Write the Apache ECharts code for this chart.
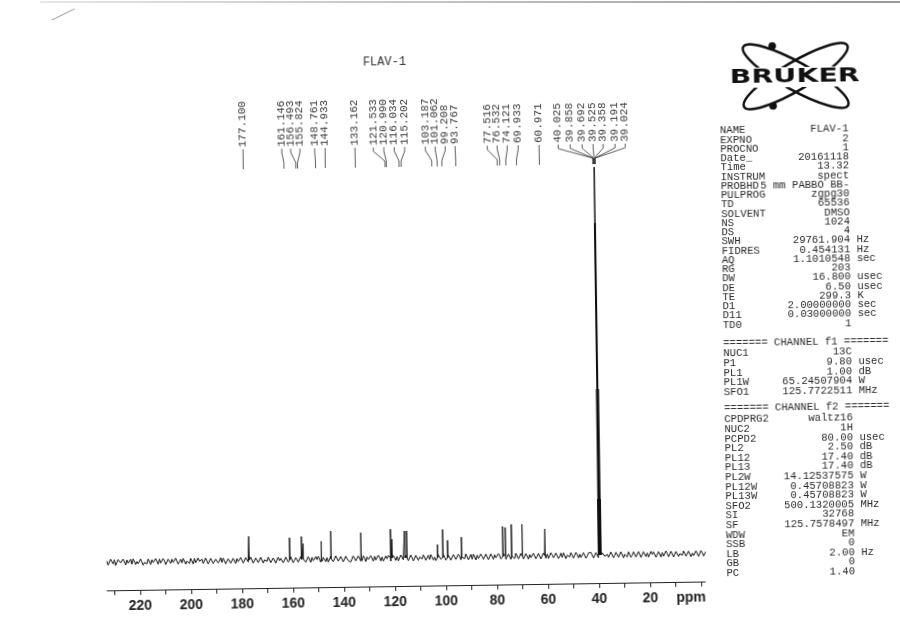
<!DOCTYPE html>
<html>
<head>
<meta charset="utf-8">
<script src="https://cdn.jsdelivr.net/npm/echarts@6/dist/echarts.min.js"></script>
<style>
  html, body { margin: 0; padding: 0; background: #fff; }
  #main { width: 900px; height: 635px; transform: rotate(-0.85deg); transform-origin: 400px 370px; }
  #edge { position: absolute; left: 40px; top: 1px; width: 860px; height: 2px; z-index: 5;
          background: linear-gradient(to right, #e6e6e6, #999); }
</style>
</head>
<body>
<div id="main"></div>
<div id="edge"></div>
<script>
// picked peaks (ppm), their heights and where the printed label sits (ppm)
const peakPpm = [177.100, 161.146, 156.493, 155.824, 148.761, 144.933, 133.162,
  121.533, 120.990, 116.034, 115.202, 103.187, 101.062, 99.208, 93.767,
  77.516, 76.532, 74.121, 69.933, 60.971,
  40.025, 39.858, 39.692, 39.525, 39.358, 39.191, 39.024];
const peakHeight = [24, 22, 23, 16, 18, 28, 26,
  29, 19, 27, 27, 13, 28, 17, 20,
  30, 29, 32, 32, 27,
  56, 166, 332, 388, 332, 166, 56];
const labelPos = [177.1, 161.9, 158.4, 154.8, 149.0, 144.9, 133.2,
  126.0, 121.9, 117.8, 113.7, 105.6, 101.7, 97.8, 93.9,
  81.3, 77.4, 73.5, 69.2, 61.0,
  53.5, 48.8, 44.1, 39.8, 35.9, 31.2, 27.2];

// baseline noise, read along the trace from 232.9 ppm down to -1.6 ppm
// (noiseB sits half a step after each noiseA sample)
const noiseStart = 232.9, noiseEnd = -1.6;
const noiseA = [
  1.2,-1.8,0.6,2.4,-1.4,0.9,-2.6,0.2,2.1,-0.8,
  -2.2,1.6,0.4,-1.3,2.7,-0.6,-2.1,1.1,1.9,-1.7,
  0.3,2.5,-2.3,0.8,-1.1,0.5,2.2,-2.8,1.4,-0.4,
  -1.6,2.0,0.1,-2.4,1.2,2.6,-0.9,-0.3,1.7,-2.0,
  1.9,-1.2,0.7,-2.5,1.3,-0.1,-1.7,2.3,-0.6,1.0,
  -2.7,0.4,1.8,-1.0,2.2,-1.9,0.6,-0.2,2.4,-1.5,
  0.9,-2.2,1.5,0.2,-1.4,2.0,-2.6,1.1,0.0,-0.9,
  2.1,-1.6,0.8,-2.0,1.6,-0.5,2.5,-1.8,0.3,1.2,
  -2.3,0.7,1.9,-1.2,-0.4,2.2,-2.1,0.9,1.4,-1.6,
  0.5,-2.4,2.0,-0.7,1.1,-1.9,2.6,-0.2,-1.3,1.7,
  -1.0,2.3,-2.2,0.6,1.5,-1.4,0.1,2.1,-2.5,0.8,
  1.3,-1.1,-0.6,2.4,-1.8,0.4,1.6,-2.3,0.9,-0.3,
  2.0,-1.5,0.2,-2.1,1.4,0.7,-1.2,2.2,-0.8,-1.9,
  1.1,0.3,-2.4,1.8,-0.5,2.5,-1.6,0.6,-1.0,1.9,
  -2.0,0.8,1.3,-1.7,2.1,-0.2,-2.3,1.0,1.6,-0.9,
  0.4,-1.8,2.4,-1.1,0.2,1.7,-2.6,0.9,-0.4,2.0,
  -1.3,0.6,1.8,-2.2,1.2,-0.7,2.3,-1.5,0.1,1.4,
  -2.1,1.0,-0.3,2.2,-1.6,0.5,1.9,-2.4,0.8,-1.2,
  1.6,-0.6,-1.9,2.1,0.3,-1.4,2.5,-2.0,0.7,1.1,
  -1.7,2.4,-0.8,0.2,1.5,-2.3,1.0,-0.1,2.2,-1.3,
  0.6,-2.5,1.7,-0.4,1.2,-1.8,2.0,0.4,-2.2,1.3,
  -0.5,1.9,-1.5,2.3,-2.0,0.7,1.4,-1.1,-0.2,2.1,
  -1.9,0.9,1.6,-2.4,0.5,-0.8,2.2,-1.6,1.0,0.2,
  -1.4,2.0,-2.1,1.2,0.6,-1.0,1.8,-2.3,0.8,-0.5
];
const noiseB = [
  -2.8,3.1,-1.5,-3.2,2.6,-0.7,3.0,-2.9,-1.2,2.7,
  3.2,-2.5,-1.8,2.9,-3.3,1.4,2.8,-2.7,-0.9,3.1,
  -2.6,-1.4,3.0,-3.1,2.3,-2.0,-1.1,3.2,-2.8,2.0,
  2.9,-3.0,1.3,2.7,-2.9,-1.6,3.1,-2.2,-2.5,2.8,
  -3.1,2.4,-2.7,1.6,-2.2,3.0,2.5,-3.2,1.8,-2.6,
  2.2,-3.0,-1.2,2.9,-2.8,2.6,-1.7,3.1,-3.0,2.1,
  -2.4,2.8,-3.1,-0.8,2.9,-2.7,2.0,-3.2,2.6,1.4,
  -3.0,2.5,-2.3,2.8,-3.1,1.9,-2.6,3.0,-1.5,-2.8,
  2.7,-3.0,-1.4,2.6,3.0,-2.9,1.7,-2.5,-3.1,2.8,
  -2.6,3.1,-2.2,2.4,-3.0,2.5,-1.8,-3.2,2.9,-2.1,
  2.8,-2.4,2.9,-3.1,-1.0,2.7,-2.8,-1.6,3.1,-2.6,
  -2.9,2.2,2.7,-3.0,2.5,-2.3,-2.8,3.0,-1.9,2.6,
  -2.7,2.8,-3.1,2.4,-2.6,-1.3,2.9,-2.5,2.3,3.0,
  -2.4,-3.1,2.6,-1.9,3.0,-2.8,2.1,-2.9,2.7,-2.2,
  2.9,-2.6,-1.7,3.1,-2.8,2.5,2.9,-3.0,-1.6,2.8,
  -2.5,2.6,-3.0,2.8,-2.7,-1.1,3.0,-2.4,2.9,-2.8,
  2.4,-2.9,-1.8,3.0,-2.6,2.7,-2.8,2.5,-3.1,-1.5,
  2.8,-2.7,2.6,-3.0,2.9,-2.3,-2.6,3.1,-2.0,2.7,
  -2.9,2.5,2.8,-3.1,-1.4,2.9,-2.7,3.0,-2.5,-2.2,
  2.6,-3.0,2.2,2.8,-2.9,2.4,-2.6,-1.9,3.0,-2.7,
  -2.3,2.9,-2.8,2.5,-2.4,3.0,-3.1,-1.2,2.8,-2.6,
  2.7,-2.4,3.0,-2.9,2.6,-2.2,-2.7,2.9,2.3,-3.0,
  2.5,-2.8,-2.1,3.1,-2.6,2.7,-3.0,2.4,-2.5,-1.7,
  2.9,-2.3,2.6,-3.0,-2.0,2.8,-2.7,3.0,-2.4,2.2
];

const tickValues = [0, 10, 20, 30, 40, 50, 60, 70, 80, 90, 100, 110, 120, 130, 140,
  150, 160, 170, 180, 190, 200, 210, 220, 230];
const tickLabels = [220, 200, 180, 160, 140, 120, 100, 80, 60, 40, 20];
const unitLabelAt = 4;

// acquisition parameters
const parKeys = ['NAME','EXPNO','PROCNO','Date_','Time','INSTRUM','PROBHD','PULPROG','TD','SOLVENT',
  'NS','DS','SWH','FIDRES','AQ','RG','DW','DE','TE','D1','D11','TD0'];
const parVals = ['FLAV-1','2','1','20161118','13.32','spect','5 mm PABBO BB-','zgpg30','65536','DMSO',
  '1024','4','29761.904','0.454131','1.1010548','203','16.800','6.50','299.3','2.00000000','0.03000000','1'];
const parUnits = ['','','','','','','','','','','','','Hz','Hz','sec','','usec','usec','K','sec','sec',''];
const f1Keys = ['NUC1','P1','PL1','PL1W','SFO1'];
const f1Vals = ['13C','9.80','1.00','65.24507904','125.7722511'];
const f1Units = ['','usec','dB','W','MHz'];
const f2Keys = ['CPDPRG2','NUC2','PCPD2','PL2','PL12','PL13','PL2W','PL12W','PL13W','SFO2','SI','SF','WDW','SSB','LB','GB','PC'];
const f2Vals = ['waltz16','1H','80.00','2.50','17.40','17.40','14.12537575','0.45708823','0.45708823','500.1320005','32768','125.7578497','EM','0','2.00','0','1.40'];
const f2Units = ['','','usec','dB','dB','dB','W','W','W','MHz','','MHz','','','Hz','',''];

// build the trace: noise samples plus a narrow spike for every peak
const spectrum = [];
const step = (noiseStart - noiseEnd) / (noiseA.length - 1);
noiseA.forEach((v, i) => spectrum.push([noiseStart - i * step, v]));
noiseB.forEach((v, i) => spectrum.push([noiseStart - (i + 0.5) * step, v]));
peakPpm.forEach((p, i) => {
  spectrum.push([p + 0.04, 0], [p, peakHeight[i]], [p - 0.04, 0]);
});
spectrum.sort((a, b) => b[0] - a[0]);

const labelData = peakPpm.map((p, i) => [p, 0, labelPos[i]]);

const monoFont = '10.6px "Liberation Mono", "DejaVu Sans Mono", monospace';
function block(lines, x, y, lh, align) {
  return { type: 'text', x: x, y: y, silent: true,
    style: { text: lines.join('\n'), font: monoFont, fill: '#2a2a2a', lineHeight: lh,
      align: align, verticalAlign: 'top' } };
}

const myChart = echarts.init(document.getElementById('main'));
myChart.setOption({
  animation: false,
  backgroundColor: '#fff',
  grid: { left: 104, right: 198, top: 158, bottom: 49 },
  xAxis: {
    type: 'value',
    inverse: true,
    min: noiseEnd,
    max: noiseStart,
    axisLine: { onZero: false, lineStyle: { color: '#222', width: 1 } },
    axisTick: { show: true, length: 5, customValues: tickValues, lineStyle: { color: '#222' } },
    axisLabel: {
      customValues: tickLabels.concat([unitLabelAt]),
      formatter: v => (v === unitLabelAt ? 'ppm' : String(v)),
      fontFamily: 'Liberation Sans', fontWeight: 'bold', fontSize: 14, color: '#222', margin: 9
    },
    splitLine: { show: false }
  },
  yAxis: { type: 'value', min: -28, max: 400, show: false },
  series: [
    {
      type: 'line',
      data: spectrum,
      symbol: 'none',
      silent: true,
      lineStyle: { color: '#111', width: 1 }
    },
    {
      type: 'custom',
      data: labelData,
      encode: { x: [0, 2], y: 1 },
      clip: false,
      silent: true,
      renderItem: function (params, api) {
        const px = api.coord([api.value(0), 0])[0];
        const lx = api.coord([api.value(2), 0])[0];
        return {
          type: 'group',
          children: [
            { type: 'polyline',
              shape: { points: [[lx, 147], [lx, 151], [px, 161], [px, 167]] },
              style: { stroke: '#333', lineWidth: 0.8, fill: null } },
            { type: 'text', x: lx, y: 145, rotation: Math.PI / 2,
              style: { text: peakPpm[params.dataIndex].toFixed(3),
                font: '11px "Liberation Mono", monospace',
                fill: '#3a3a3a', align: 'left', verticalAlign: 'middle' } }
          ]
        };
      }
    }
  ],
  graphic: [
    { type: 'text', x: 389, y: 62, silent: true,
      style: { text: 'FLAV-1', font: '12px "Liberation Mono"', fill: '#333', align: 'center', verticalAlign: 'middle' } },
    { type: 'line', silent: true, shape: { x1: 57, y1: 15, x2: 80, y2: 4 }, style: { stroke: '#999', lineWidth: 1 } },
    // logo
    { type: 'ellipse', x: 800, y: 82, rotation: Math.PI / 6, silent: true,
      shape: { cx: 0, cy: 0, rx: 60, ry: 14 }, style: { fill: null, stroke: '#111', lineWidth: 2.5 } },
    { type: 'ellipse', x: 800, y: 82, rotation: -Math.PI / 6, silent: true,
      shape: { cx: 0, cy: 0, rx: 60, ry: 14 }, style: { fill: null, stroke: '#111', lineWidth: 2.5 } },
    { type: 'text', x: 799, y: 83, scaleX: 1.42, silent: true,
      style: { text: 'BRUKER', font: 'bold 20px "DejaVu Sans"', fill: '#111', align: 'center',
        verticalAlign: 'middle', backgroundColor: '#fff', padding: [0, 1] } },
    { type: 'circle', silent: true, shape: { cx: 777, cy: 51.5, r: 3.8 }, style: { fill: '#111' } },
    { type: 'circle', silent: true, shape: { cx: 777, cy: 111.5, r: 3.8 }, style: { fill: '#111' } },
    // parameter table
    block(parKeys, 723.5, 130.9, 9.25, 'left'),
    block(parVals, 852, 130.9, 9.25, 'right'),
    block(parUnits, 858.4, 130.9, 9.25, 'left'),
    { type: 'text', x: 723.5, y: 348.5, silent: true,
      style: { text: '======= CHANNEL f1 =======', font: monoFont, fill: '#2a2a2a', verticalAlign: 'middle' } },
    block(f1Keys, 723.5, 353.7, 9.6, 'left'),
    block(f1Vals, 852, 353.7, 9.6, 'right'),
    block(f1Units, 858.4, 353.7, 9.6, 'left'),
    { type: 'text', x: 723.5, y: 413.5, silent: true,
      style: { text: '======= CHANNEL f2 =======', font: monoFont, fill: '#2a2a2a', verticalAlign: 'middle' } },
    block(f2Keys, 723.5, 419.7, 9.6, 'left'),
    block(f2Vals, 852, 419.7, 9.6, 'right'),
    block(f2Units, 858.4, 419.7, 9.6, 'left')
  ]
});
</script>
</body>
</html>
